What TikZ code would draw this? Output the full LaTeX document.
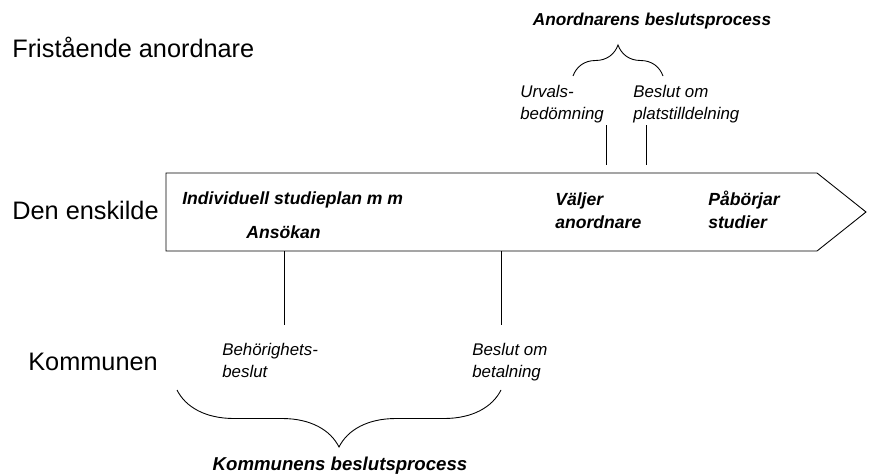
\documentclass[tikz,border=0pt]{standalone}
\usepackage{fontspec}
\setmainfont{Liberation Sans}
\usepackage{tikz}
\usetikzlibrary{calc, positioning, decorations.pathreplacing}

\begin{document}
\begin{tikzpicture}[
    lane/.style={anchor=base west, inner sep=0pt, font=\fontsize{14.4}{17}\selectfont},
    evt/.style={anchor=base west, inner sep=0pt, align=left,
      font=\fontsize{10}{13}\selectfont\bfseries\itshape},
    note/.style={anchor=base west, inner sep=0pt, align=left,
      font=\fontsize{9.6}{12}\selectfont\itshape},
    title/.style={anchor=base, inner sep=0pt, font=\fontsize{#1}{12}\selectfont\bfseries\itshape},
    brace/.style={decorate, decoration={brace, amplitude=#1}, line width=0.5pt},
    tick/.style={line width=0.5pt},
  ]
    \useasboundingbox (0,0) rectangle (17.38,-9.5);

    % the three parties
    \node[lane] (frist) at (0.24,-1.16) {Fristående anordnare};
    \node[lane] (enskild) at (0.24,-4.38) {Den enskilde};
    \node[lane] (kommun) at (0.56,-7.40) {Kommunen};

    % the time arrow of the individual
    \coordinate (tl) at (3.32,-3.46);
    \coordinate (tr) at (16.34,-3.46);
    \coordinate (tip) at (17.32,-4.24);
    \coordinate (br) at (16.34,-5.02);
    \coordinate (bl) at (3.32,-5.02);
    \draw[line width=0.5pt] (tl) -- (tr) -- (tip) -- (br) -- (bl) -- cycle;

    % (base of a two-line node sits on its last line)
    \node[evt] (individ) at (3.64,-4.08) {Individuell studieplan m m};
    \node[evt] (ansokan) at (4.92,-4.76) {Ansökan};
    \node[evt] (valjer) at (11.10,-4.56) {Väljer\\anordnare};
    \node[evt] (paborjar) at (14.16,-4.56) {Påbörjar\\studier};

    % the provider's decisions
    \node[note] (urval) at (10.40,-2.38) {Urvals-\\bedömning};
    \node[note] (plats) at (12.66,-2.38) {Beslut om\\platstilldelning};
    \coordinate (u1) at (12.12,-2.50);
    \coordinate (u2) at (12.12,-3.30);
    \coordinate (p1) at (12.92,-2.50);
    \coordinate (p2) at (12.92,-3.30);
    \draw[tick] (u1) -- (u2);
    \draw[tick] (p1) -- (p2);
    \coordinate (ab1) at (11.46,-1.52);
    \coordinate (ab2) at (13.26,-1.52);
    \draw[brace=0.62cm] (ab1) -- (ab2);
    \node[title=9.8] (anordproc) at (13.04,-0.52) {Anordnarens beslutsprocess};

    % the municipality's decisions
    \coordinate (h1) at (5.68,-5.02);
    \coordinate (h2) at (5.68,-6.50);
    \coordinate (b1) at (10.02,-5.02);
    \coordinate (b2) at (10.02,-6.50);
    \draw[tick] (h1) -- (h2);
    \draw[tick] (b1) -- (b2);
    \node[note] (behorig) at (4.44,-7.54) {Behörighets-\\beslut};
    \node[note] (betal) at (9.44,-7.54) {Beslut om\\betalning};
    \coordinate (kb1) at (10.02,-7.80);
    \coordinate (kb2) at (3.54,-7.80);
    \draw[brace=1.14cm] (kb1) -- (kb2);
    \node[title=10.6] (kommproc) at (6.80,-9.40) {Kommunens beslutsprocess};
\end{tikzpicture}
\end{document}
